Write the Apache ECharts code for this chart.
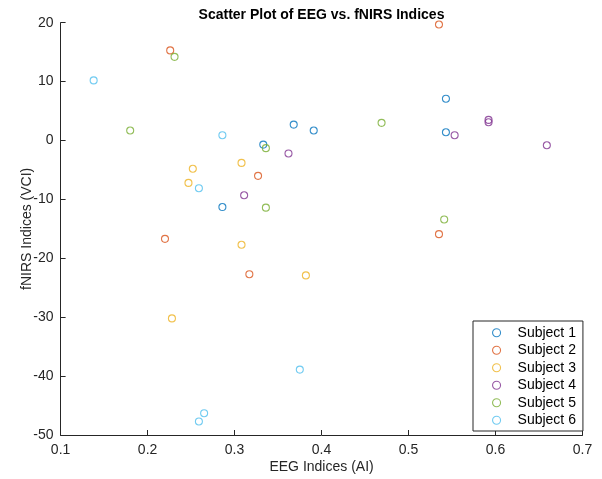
<!DOCTYPE html>
<html>
<head>
<meta charset="utf-8">
<script src="https://cdn.jsdelivr.net/npm/echarts@6/dist/echarts.min.js"></script>
<style>
html,body{margin:0;padding:0;background:#fff;}
#chart{width:602px;height:479px;}
</style>
</head>
<body>
<div id="chart"></div>
<script>
const subjectNames = ['Subject 1','Subject 2','Subject 3','Subject 4','Subject 5','Subject 6'];
const s1x = [0.333, 0.368, 0.391, 0.286, 0.543, 0.543];
const s1y = [-0.7, 2.7, 1.7, -11.3, 7.1, 1.4];
const s2x = [0.226, 0.327, 0.535, 0.220, 0.317, 0.535];
const s2y = [15.3, -6.0, 19.7, -16.7, -22.7, -15.9];
const s3x = [0.308, 0.252, 0.247, 0.308, 0.382, 0.228];
const s3y = [-3.8, -4.8, -7.2, -17.7, -22.9, -30.2];
const s4x = [0.362, 0.311, 0.592, 0.592, 0.553, 0.659];
const s4y = [-2.2, -9.3, 3.5, 3.1, 0.9, -0.8];
const s5x = [0.231, 0.180, 0.336, 0.336, 0.469, 0.541];
const s5y = [14.2, 1.7, -1.3, -11.4, 3.0, -13.4];
const s6x = [0.138, 0.286, 0.259, 0.375, 0.265, 0.259];
const s6y = [10.2, 0.9, -8.1, -38.9, -46.3, -47.7];
const xTicks = [0.1, 0.2, 0.3, 0.4, 0.5, 0.6, 0.7];
const yTicks = [-50, -40, -30, -20, -10, 0, 10, 20];

const colors = ['#0072BD','#D95319','#EDB120','#7E2F8E','#77AC30','#4DBEEE'];
const xs = [s1x,s2x,s3x,s4x,s5x,s6x];
const ys = [s1y,s2y,s3y,s4y,s5y,s6y];
const FONT = 'Liberation Sans, Arial, Helvetica, sans-serif';
const AX = '#262626';

const series = subjectNames.map((n,i)=>({
  name: n,
  type: 'scatter',
  symbol: 'circle',
  symbolSize: 7,
  itemStyle: {color: 'rgba(0,0,0,0)', borderColor: colors[i], borderWidth: 1.1},
  emphasis: {disabled: true},
  data: xs[i].map((x,j)=>[x, ys[i][j]])
}));

const chart = echarts.init(document.getElementById('chart'), null, {renderer:'canvas'});
chart.setOption({
  animation: false,
  backgroundColor: '#fff',
  title: {
    text: 'Scatter Plot of EEG vs. fNIRS Indices',
    left: 321.5, textAlign: 'center', top: 8, padding: 0,
    textStyle: {fontFamily: FONT, fontSize: 14, fontWeight: 'bold', color: '#000'}
  },
  grid: {left: 60.6, right: 19.5, top: 22.7, bottom: 44, containLabel: false},
  xAxis: {
    type: 'value', min: xTicks[0], max: xTicks[xTicks.length-1], interval: 0.1,
    name: 'EEG Indices (AI)', nameLocation: 'middle', nameGap: 25, nameMoveOverlap: false,
    nameTextStyle: {fontFamily: FONT, fontSize: 14, color: AX},
    axisLine: {show: true, onZero: false, lineStyle: {color: AX, width: 1}},
    axisTick: {show: true, inside: true, length: 5, lineStyle: {color: AX}},
    axisLabel: {fontFamily: FONT, fontSize: 14, color: AX, margin: 8,
      formatter: v => (Math.round(v*10)/10).toFixed(1)},
    splitLine: {show: false}
  },
  yAxis: {
    type: 'value', min: yTicks[0], max: yTicks[yTicks.length-1], interval: 10,
    name: 'fNIRS Indices (VCI)', nameLocation: 'middle', nameGap: 26, nameRotate: 90, nameMoveOverlap: false,
    nameTextStyle: {fontFamily: FONT, fontSize: 14, color: AX},
    axisLine: {show: true, onZero: false, lineStyle: {color: AX, width: 1}},
    axisTick: {show: true, inside: true, length: 5, lineStyle: {color: AX}},
    axisLabel: {fontFamily: FONT, fontSize: 14, color: AX, margin: 7},
    splitLine: {show: false}
  },
  legend: {
    orient: 'vertical', left: 473, top: 321,
    padding: [3, 7, 2, 19],
    itemGap: 0, itemWidth: 8, itemHeight: 8,
    borderColor: AX, borderWidth: 1, backgroundColor: '#fff', borderRadius: 0,
    textStyle: {fontFamily: FONT, fontSize: 14, color: '#000', lineHeight: 17.5, padding: [0,0,0,12]},
    data: subjectNames.map((n,i)=>({name: n, icon: 'circle',
      itemStyle: {color: 'rgba(0,0,0,0)', borderColor: colors[i], borderWidth: 1.1}}))
  },
  series: series
});
</script>
</body>
</html>
